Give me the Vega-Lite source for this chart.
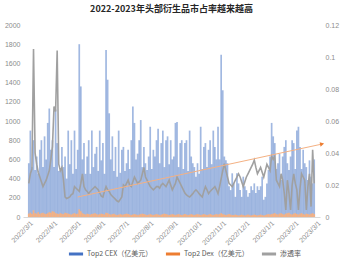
{
"$schema": "https://vega.github.io/schema/vega-lite/v6.json",
"width": 297, "height": 192,
"autosize": {"type": "none"},
"padding": {"left": 23, "top": 25, "right": 40, "bottom": 50},
"background": "white",
"config": {"view": {"stroke": null}},
"title": {"text": "2022-2023年头部衍生品市占率越来越高", "font": "Noto Sans CJK SC", "fontSize": 9, "fontWeight": "bold", "color": "#262626", "offset": 7, "anchor": "middle"},
"datasets": {
"main": [
{"d":"2022-03-01","c":560,"x":35,"r":0.021},
{"d":"2022-03-03","c":900,"x":45,"r":0.027},
{"d":"2022-03-05","c":520,"x":30,"r":0.03},
{"d":"2022-03-07","c":800,"x":70,"r":0.105},
{"d":"2022-03-09","c":490,"x":40,"r":0.04},
{"d":"2022-03-11","c":630,"x":35,"r":0.033},
{"d":"2022-03-13","c":450,"x":50,"r":0.028},
{"d":"2022-03-15","c":700,"x":30,"r":0.025},
{"d":"2022-03-17","c":800,"x":40,"r":0.022},
{"d":"2022-03-19","c":520,"x":45,"r":0.019},
{"d":"2022-03-21","c":840,"x":35,"r":0.021},
{"d":"2022-03-23","c":600,"x":30,"r":0.023},
{"d":"2022-03-25","c":980,"x":40,"r":0.026},
{"d":"2022-03-27","c":1130,"x":50,"r":0.029},
{"d":"2022-03-29","c":700,"x":45,"r":0.036},
{"d":"2022-03-31","c":800,"x":60,"r":0.044},
{"d":"2022-04-02","c":520,"x":55,"r":0.069},
{"d":"2022-04-04","c":1120,"x":40,"r":0.066},
{"d":"2022-04-06","c":770,"x":35,"r":0.104},
{"d":"2022-04-08","c":480,"x":30,"r":0.033},
{"d":"2022-04-10","c":490,"x":40,"r":0.029},
{"d":"2022-04-12","c":730,"x":35,"r":0.031},
{"d":"2022-04-14","c":520,"x":30,"r":0.023},
{"d":"2022-04-16","c":630,"x":45,"r":0.0125},
{"d":"2022-04-18","c":400,"x":40,"r":0.0115},
{"d":"2022-04-20","c":900,"x":35,"r":0.012},
{"d":"2022-04-22","c":550,"x":30,"r":0.0125},
{"d":"2022-04-24","c":800,"x":25,"r":0.014},
{"d":"2022-04-26","c":450,"x":35,"r":0.0146},
{"d":"2022-04-28","c":900,"x":40,"r":0.019},
{"d":"2022-04-30","c":500,"x":30,"r":0.018},
{"d":"2022-05-02","c":700,"x":35,"r":0.017},
{"d":"2022-05-04","c":1800,"x":80,"r":0.016},
{"d":"2022-05-06","c":1360,"x":60,"r":0.021},
{"d":"2022-05-08","c":600,"x":40,"r":0.027},
{"d":"2022-05-10","c":770,"x":30,"r":0.019},
{"d":"2022-05-12","c":450,"x":25,"r":0.017},
{"d":"2022-05-14","c":630,"x":35,"r":0.016},
{"d":"2022-05-16","c":800,"x":30,"r":0.0146},
{"d":"2022-05-18","c":450,"x":25,"r":0.016},
{"d":"2022-05-20","c":900,"x":30,"r":0.017},
{"d":"2022-05-22","c":520,"x":35,"r":0.018},
{"d":"2022-05-24","c":660,"x":40,"r":0.019},
{"d":"2022-05-26","c":730,"x":30,"r":0.018},
{"d":"2022-05-28","c":480,"x":25,"r":0.017},
{"d":"2022-05-30","c":900,"x":30,"r":0.015},
{"d":"2022-06-01","c":590,"x":35,"r":0.013},
{"d":"2022-06-03","c":770,"x":30,"r":0.0125},
{"d":"2022-06-05","c":450,"x":25,"r":0.016},
{"d":"2022-06-07","c":1740,"x":45,"r":0.019},
{"d":"2022-06-09","c":1430,"x":40,"r":0.017},
{"d":"2022-06-11","c":1080,"x":30,"r":0.016},
{"d":"2022-06-13","c":600,"x":25,"r":0.014},
{"d":"2022-06-15","c":840,"x":30,"r":0.013},
{"d":"2022-06-17","c":480,"x":35,"r":0.012},
{"d":"2022-06-19","c":730,"x":25,"r":0.011},
{"d":"2022-06-21","c":420,"x":20,"r":0.010},
{"d":"2022-06-23","c":900,"x":25,"r":0.0095},
{"d":"2022-06-25","c":460,"x":30,"r":0.011},
{"d":"2022-06-27","c":700,"x":25,"r":0.0125},
{"d":"2022-06-29","c":730,"x":25,"r":0.02},
{"d":"2022-07-01","c":480,"x":30,"r":0.019},
{"d":"2022-07-03","c":560,"x":35,"r":0.021},
{"d":"2022-07-05","c":700,"x":30,"r":0.023},
{"d":"2022-07-07","c":500,"x":25,"r":0.02},
{"d":"2022-07-09","c":800,"x":20,"r":0.019},
{"d":"2022-07-11","c":1150,"x":25,"r":0.022},
{"d":"2022-07-13","c":980,"x":30,"r":0.025},
{"d":"2022-07-15","c":600,"x":25,"r":0.023},
{"d":"2022-07-17","c":660,"x":20,"r":0.021},
{"d":"2022-07-19","c":800,"x":25,"r":0.022},
{"d":"2022-07-21","c":1010,"x":30,"r":0.023},
{"d":"2022-07-23","c":520,"x":35,"r":0.027},
{"d":"2022-07-25","c":730,"x":30,"r":0.031},
{"d":"2022-07-27","c":560,"x":25,"r":0.025},
{"d":"2022-07-29","c":490,"x":20,"r":0.023},
{"d":"2022-07-31","c":630,"x":25,"r":0.021},
{"d":"2022-08-02","c":940,"x":30,"r":0.019},
{"d":"2022-08-04","c":500,"x":25,"r":0.018},
{"d":"2022-08-06","c":700,"x":20,"r":0.017},
{"d":"2022-08-08","c":630,"x":25,"r":0.018},
{"d":"2022-08-10","c":800,"x":30,"r":0.019},
{"d":"2022-08-12","c":920,"x":25,"r":0.019},
{"d":"2022-08-14","c":560,"x":20,"r":0.018},
{"d":"2022-08-16","c":770,"x":25,"r":0.02},
{"d":"2022-08-18","c":900,"x":30,"r":0.021},
{"d":"2022-08-20","c":520,"x":35,"r":0.02},
{"d":"2022-08-22","c":800,"x":30,"r":0.019},
{"d":"2022-08-24","c":840,"x":25,"r":0.021},
{"d":"2022-08-26","c":550,"x":20,"r":0.023},
{"d":"2022-08-28","c":800,"x":25,"r":0.02},
{"d":"2022-08-30","c":600,"x":30,"r":0.017},
{"d":"2022-09-01","c":630,"x":25,"r":0.019},
{"d":"2022-09-03","c":980,"x":20,"r":0.021},
{"d":"2022-09-05","c":990,"x":25,"r":0.025},
{"d":"2022-09-07","c":520,"x":30,"r":0.023},
{"d":"2022-09-09","c":770,"x":25,"r":0.021},
{"d":"2022-09-11","c":800,"x":20,"r":0.019},
{"d":"2022-09-13","c":500,"x":25,"r":0.017},
{"d":"2022-09-15","c":770,"x":30,"r":0.015},
{"d":"2022-09-17","c":800,"x":25,"r":0.0138},
{"d":"2022-09-19","c":480,"x":20,"r":0.013},
{"d":"2022-09-21","c":900,"x":25,"r":0.0125},
{"d":"2022-09-23","c":630,"x":30,"r":0.0135},
{"d":"2022-09-25","c":560,"x":25,"r":0.0146},
{"d":"2022-09-27","c":520,"x":20,"r":0.016},
{"d":"2022-09-29","c":420,"x":25,"r":0.017},
{"d":"2022-10-01","c":560,"x":30,"r":0.016},
{"d":"2022-10-03","c":450,"x":25,"r":0.0146},
{"d":"2022-10-05","c":940,"x":20,"r":0.0135},
{"d":"2022-10-07","c":500,"x":25,"r":0.0125},
{"d":"2022-10-09","c":730,"x":30,"r":0.016},
{"d":"2022-10-11","c":770,"x":25,"r":0.019},
{"d":"2022-10-13","c":520,"x":20,"r":0.017},
{"d":"2022-10-15","c":700,"x":25,"r":0.0146},
{"d":"2022-10-17","c":800,"x":30,"r":0.016},
{"d":"2022-10-19","c":550,"x":25,"r":0.017},
{"d":"2022-10-21","c":900,"x":20,"r":0.018},
{"d":"2022-10-23","c":730,"x":25,"r":0.019},
{"d":"2022-10-25","c":600,"x":30,"r":0.017},
{"d":"2022-10-27","c":940,"x":25,"r":0.0146},
{"d":"2022-10-29","c":600,"x":30,"r":0.019},
{"d":"2022-10-31","c":1690,"x":40,"r":0.024},
{"d":"2022-11-02","c":1320,"x":30,"r":0.029},
{"d":"2022-11-04","c":630,"x":25,"r":0.0333},
{"d":"2022-11-06","c":590,"x":20,"r":0.029},
{"d":"2022-11-08","c":560,"x":25,"r":0.025},
{"d":"2022-11-10","c":320,"x":30,"r":0.021},
{"d":"2022-11-12","c":280,"x":25,"r":0.02},
{"d":"2022-11-14","c":455,"x":20,"r":0.019},
{"d":"2022-11-16","c":350,"x":20,"r":0.021},
{"d":"2022-11-18","c":210,"x":25,"r":0.023},
{"d":"2022-11-20","c":455,"x":20,"r":0.025},
{"d":"2022-11-22","c":350,"x":15,"r":0.027},
{"d":"2022-11-24","c":280,"x":20,"r":0.025},
{"d":"2022-11-26","c":210,"x":25,"r":0.022},
{"d":"2022-11-28","c":420,"x":20,"r":0.019},
{"d":"2022-11-30","c":320,"x":15,"r":0.022},
{"d":"2022-12-02","c":280,"x":20,"r":0.025},
{"d":"2022-12-04","c":210,"x":25,"r":0.027},
{"d":"2022-12-06","c":250,"x":20,"r":0.029},
{"d":"2022-12-08","c":320,"x":15,"r":0.031},
{"d":"2022-12-10","c":280,"x":20,"r":0.033},
{"d":"2022-12-12","c":350,"x":25,"r":0.0356},
{"d":"2022-12-14","c":250,"x":20,"r":0.031},
{"d":"2022-12-16","c":320,"x":15,"r":0.027},
{"d":"2022-12-18","c":280,"x":20,"r":0.029},
{"d":"2022-12-20","c":320,"x":25,"r":0.031},
{"d":"2022-12-22","c":420,"x":20,"r":0.028},
{"d":"2022-12-24","c":180,"x":15,"r":0.025},
{"d":"2022-12-26","c":210,"x":20,"r":0.029},
{"d":"2022-12-28","c":350,"x":25,"r":0.033},
{"d":"2022-12-30","c":490,"x":30,"r":0.031},
{"d":"2023-01-01","c":630,"x":25,"r":0.029},
{"d":"2023-01-03","c":980,"x":30,"r":0.038},
{"d":"2023-01-05","c":840,"x":35,"r":0.036},
{"d":"2023-01-07","c":770,"x":40,"r":0.038},
{"d":"2023-01-09","c":500,"x":30,"r":0.023},
{"d":"2023-01-11","c":560,"x":25,"r":0.021},
{"d":"2023-01-13","c":660,"x":35,"r":0.019},
{"d":"2023-01-15","c":385,"x":40,"r":0.027},
{"d":"2023-01-17","c":630,"x":30,"r":0.023},
{"d":"2023-01-19","c":730,"x":25,"r":0.015},
{"d":"2023-01-21","c":800,"x":35,"r":0.0044},
{"d":"2023-01-23","c":560,"x":40,"r":0.023},
{"d":"2023-01-25","c":490,"x":45,"r":0.015},
{"d":"2023-01-27","c":630,"x":30,"r":0.0044},
{"d":"2023-01-29","c":800,"x":25,"r":0.02},
{"d":"2023-01-31","c":770,"x":35,"r":0.027},
{"d":"2023-02-02","c":500,"x":40,"r":0.021},
{"d":"2023-02-04","c":900,"x":30,"r":0.017},
{"d":"2023-02-06","c":940,"x":25,"r":0.0044},
{"d":"2023-02-08","c":730,"x":35,"r":0.018},
{"d":"2023-02-10","c":500,"x":40,"r":0.027},
{"d":"2023-02-12","c":700,"x":30,"r":0.025},
{"d":"2023-02-14","c":560,"x":25,"r":0.023},
{"d":"2023-02-16","c":520,"x":35,"r":0.0044},
{"d":"2023-02-18","c":385,"x":30,"r":0.019},
{"d":"2023-02-20","c":590,"x":25,"r":0.027},
{"d":"2023-02-22","c":420,"x":35,"r":0.0065},
{"d":"2023-02-24","c":350,"x":40,"r":0.042},
{"d":"2023-02-26","c":600,"x":30,"r":0.021}
],
"trend": [
{"d":"2022-05-02","r":0.0125},
{"d":"2023-03-08","r":0.0456}
],
"arrow": [
{"d":"2023-03-08","r":0.0456}
]
},
"encoding": {
"x": {"field": "d", "type": "temporal",
 "scale": {"type": "utc", "nice": false, "domain": [1646006400000, 1677456000000]},
 "axis": {"title": null, "labelExpr": "utcFormat(datum.value, '%Y/%-m/%-d')", "tickCount": "month", "labelAngle": -45, "labelFontSize": 7, "labelColor": "#8c8c8c", "labelFont": "Liberation Sans", "ticks": false, "grid": false, "domainColor": "#d9d9d9", "labelPadding": 2, "labelOverlap": false}}
},
"layer": [
{"data": {"name": "main"},
 "layer": [
  {"mark": {"type": "bar", "width": 1.7, "color": "#4472C4", "opacity": 0.5},
   "encoding": {"y": {"field": "c", "type": "quantitative", "scale": {"domain": [0, 2000]},
     "axis": {"title": null, "orient": "left", "values": [0,200,400,600,800,1000,1200,1400,1600,1800,2000], "format": "d", "labelFontSize": 7, "labelColor": "#8c8c8c", "labelFont": "Liberation Sans", "domain": false, "ticks": false, "grid": false, "labelPadding": 3, "labelOverlap": false}}}},
  {"mark": {"type": "bar", "width": 1.7, "color": "#F4B183"},
   "encoding": {"y": {"field": "x", "type": "quantitative", "scale": {"domain": [0, 2000]},
     "axis": {"title": null, "orient": "left", "values": [0,200,400,600,800,1000,1200,1400,1600,1800,2000], "format": "d", "labelFontSize": 7, "labelColor": "#8c8c8c", "labelFont": "Liberation Sans", "domain": false, "ticks": false, "grid": false, "labelPadding": 3, "labelOverlap": false}}}}
 ]},
{"layer": [
  {"data": {"name": "main"},
   "mark": {"type": "line", "strokeWidth": 1.6},
   "encoding": {
    "y": {"field": "r", "type": "quantitative", "scale": {"domain": [0, 0.12]},
      "axis": {"title": null, "orient": "right", "values": [0,0.02,0.04,0.06,0.08,0.1,0.12], "labelExpr": "datum.value == 0 ? '0' : format(datum.value, '.2~f')", "labelFontSize": 7, "labelColor": "#8c8c8c", "labelFont": "Liberation Sans", "domain": false, "ticks": false, "grid": false, "labelPadding": 5, "labelOverlap": false}},
    "color": {"datum": "渗透率", "type": "nominal",
      "scale": {"domain": ["Top2 CEX（亿美元）", "Top2 Dex（亿美元）", "渗透率"], "range": ["#4472C4", "#ED7D31", "#A0A0A0"]},
      "legend": {"title": null, "orient": "none", "legendX": 44, "legendY": 220, "direction": "horizontal", "symbolType": "stroke", "symbolStrokeWidth": 3, "symbolSize": 200, "symbolOpacity": 1, "labelFontSize": 7, "labelColor": "#595959", "labelFont": "Noto Sans CJK SC", "columnPadding": 6, "labelOffset": 2, "padding": 0}}
   }},
  {"data": {"name": "trend"},
   "mark": {"type": "line", "color": "#F4B183", "strokeWidth": 1},
   "encoding": {"y": {"field": "r", "type": "quantitative",
      "axis": {"title": null, "orient": "right", "values": [0,0.02,0.04,0.06,0.08,0.1,0.12], "labelExpr": "datum.value == 0 ? '0' : format(datum.value, '.2~f')", "labelFontSize": 7, "labelColor": "#8c8c8c", "labelFont": "Liberation Sans", "domain": false, "ticks": false, "grid": false, "labelPadding": 5, "labelOverlap": false}}}},
  {"data": {"name": "arrow"},
   "mark": {"type": "point", "shape": "triangle-right", "filled": true, "color": "#ED7D31", "size": 22, "angle": -12, "opacity": 1},
   "encoding": {"y": {"field": "r", "type": "quantitative",
      "axis": {"title": null, "orient": "right", "values": [0,0.02,0.04,0.06,0.08,0.1,0.12], "labelExpr": "datum.value == 0 ? '0' : format(datum.value, '.2~f')", "labelFontSize": 7, "labelColor": "#8c8c8c", "labelFont": "Liberation Sans", "domain": false, "ticks": false, "grid": false, "labelPadding": 5, "labelOverlap": false}}}}
 ]}
],
"resolve": {"scale": {"y": "independent"}}
}
